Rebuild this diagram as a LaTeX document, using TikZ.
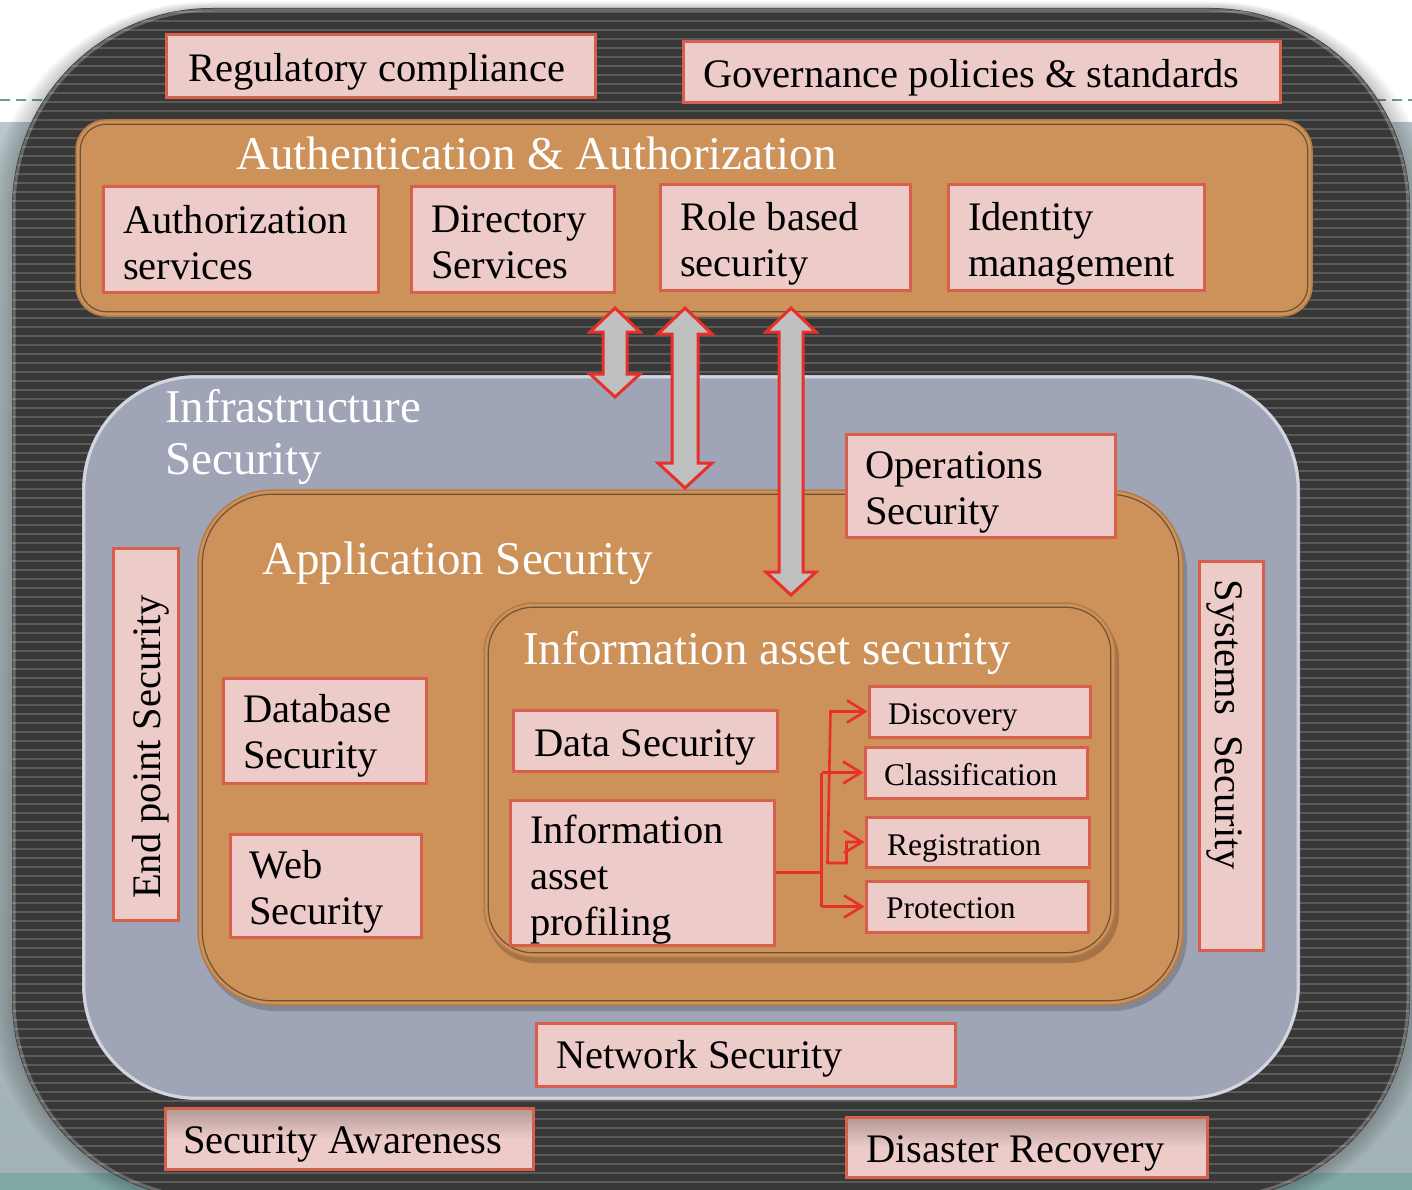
\documentclass[tikz,border=0pt]{standalone}
\usepackage{fontspec}
\setmainfont{Liberation Serif}
\usetikzlibrary{calc,arrows.meta,fit}

\definecolor{pinkfill}{HTML}{ECCBC8}
\definecolor{boxline}{HTML}{D6604B}
\definecolor{panelTan}{HTML}{CD915A}
\definecolor{tanEdge}{HTML}{B47B46}
\definecolor{tanLine}{HTML}{6E5234}
\definecolor{panelGrey}{HTML}{9FA5B7}
\definecolor{darkBase}{HTML}{383838}
\definecolor{stripeCol}{HTML}{5A5A5A}
\definecolor{slideTop}{HTML}{B9C6CA}
\definecolor{slideBot}{HTML}{A3B2B5}
\definecolor{slideTeal}{HTML}{7FA7A3}
\definecolor{dashCol}{HTML}{6E9898}
\definecolor{arrowRed}{HTML}{E8302A}
\definecolor{arrowGrey}{HTML}{C0C0C0}
\definecolor{awTop}{HTML}{B29792}

\tikzset{
  box/.style={draw=boxline, line width=3pt, fill=pinkfill, inner sep=0pt},
  shadedbox/.style={box, top color=awTop, bottom color=pinkfill, middle color=pinkfill},
  lbl/.style={font=\fontsize{40.5}{46}\selectfont, inner sep=0pt, text=black, align=left},
  sm/.style={font=\fontsize{31.5}{36}\selectfont, inner sep=0pt, text=black},
  ttl/.style={font=\fontsize{47}{52}\selectfont, inner sep=0pt, text=white, align=left},
  tanpanel/.style={fill=panelTan, draw=tanEdge, line width=1.5pt, inner sep=0pt},
  greypanel/.style={fill=panelGrey, inner sep=0pt},
  conn/.style={draw=arrowRed, line width=2.6pt},
  barb/.tip={Straight Barb[length=18pt,width=22pt,line width=2.6pt]},
  blockarrow/.style={fill=arrowGrey, draw=arrowRed, line width=3pt, line join=miter},
}

% vertical double block arrow: x, top tip, top head base, bottom head base, bottom tip, shaft half width, head half width
\newcommand{\secArrow}[7]{%
  \filldraw[blockarrow] (#1,#2) -- (#1+#7,#3) -- (#1+#6,#3) -- (#1+#6,#4) -- (#1+#7,#4)
    -- (#1,#5) -- (#1-#7,#4) -- (#1-#6,#4) -- (#1-#6,#3) -- (#1-#7,#3) -- cycle;}

\begin{document}
\begin{tikzpicture}[x=1pt,y=-1pt]
\useasboundingbox (0,0) rectangle (1412,1190);

% slide background
\fill[white] (0,0) rectangle (1412,1190);
\shade[top color=slideTop, bottom color=slideBot] (0,123) rectangle (1412,1173);
\fill[slideTeal] (0,1173) rectangle (1412,1190);
\draw[dashCol, line width=2.5pt, dash pattern=on 10pt off 6pt] (0,100) -- (1412,100);

% soft shadow round the dark frame
\foreach \i in {1,...,6}
  \fill[black, opacity=0.035, rounded corners=200+3*\i] (12-4*\i,8-1*\i) rectangle (1410+4*\i,1200+2*\i);

% dark striped frame
\fill[darkBase, rounded corners=200] (12,8) rectangle (1410,1200);
\begin{scope}
  \clip[rounded corners=200] (12,8) rectangle (1410,1200);
  \foreach \y in {12,21,...,1200}
    \draw[stripeCol, line width=2.2pt] (0,\y) -- (1412,\y);
\end{scope}
\draw[white, opacity=0.25, line width=3pt, rounded corners=199] (14,10) rectangle (1408,1198);

% outer boxes on the frame
\node[box, fit={(166,35) (595,98)}] (reg) {};
\node[lbl, anchor=base west] (reg-t) at (188,82) {Regulatory compliance};
\node[box, fit={(683,42) (1280,103)}] (gov) {};
\node[lbl, anchor=base west] (gov-t) at (703,88) {Governance policies \& standards};

% authentication panel
\node[tanpanel, rounded corners=30, fit={(76,120) (1312,316)}] (auth) {};
\draw[tanLine, line width=1.2pt, rounded corners=26]
  ($(auth.north west)+(5,5)$) rectangle ($(auth.south east)+(-5,-5)$);
\node[ttl, anchor=base west] (auth-t) at (236,170) {Authentication \& Authorization};

% (multi-line labels are anchored on the baseline of their last line)
\node[box, fit={(103,187) (378,292)}] (authz) {};
\node[lbl, anchor=base west] (authz-t) at (123,279) {Authorization\\services};
\node[box, fit={(411,187) (614,292)}] (dir) {};
\node[lbl, anchor=base west] (dir-t) at (431,278) {Directory\\Services};
\node[box, fit={(660,185) (910,290)}] (role) {};
\node[lbl, anchor=base west] (role-t) at (680,276) {Role based\\security};
\node[box, fit={(948,185) (1204,290)}] (idm) {};
\node[lbl, anchor=base west] (idm-t) at (968,276) {Identity\\management};

% infrastructure panel
\node[greypanel, rounded corners=115, fit={(82,375) (1300,1100)}] (infra) {};
\draw[white, opacity=0.55, line width=3pt, rounded corners=113]
  ($(infra.north west)+(2,2)$) rectangle ($(infra.south east)+(-2,-2)$);
\node[ttl, anchor=base west] (infra-t) at (165,474) {Infrastructure\\Security};

% application panel
\fill[black, opacity=0.18, rounded corners=75] (200,496) rectangle (1187,1011);
\node[tanpanel, rounded corners=75, fit={(198,490) (1183,1005)}] (app) {};
\draw[tanLine, line width=1.2pt, rounded corners=70]
  ($(app.north west)+(5,5)$) rectangle ($(app.south east)+(-5,-5)$);
\node[ttl, anchor=base west] (app-t) at (262,574) {Application Security};

% information asset panel
\fill[black, opacity=0.2, rounded corners=50] (486,609) rectangle (1119,963);
\node[tanpanel, rounded corners=50, fit={(484,603) (1115,957)}] (info) {};
\draw[tanLine, line width=1.2pt, rounded corners=45]
  ($(info.north west)+(5,5)$) rectangle ($(info.south east)+(-5,-5)$);
\node[ttl, anchor=base west] (info-t) at (523,664) {Information asset security};

% boxes on the infrastructure panel
\node[box, fit={(846,434) (1115,537)}] (ops) {};
\node[lbl, anchor=base west] (ops-t) at (865,524) {Operations\\Security};
\node[box, fit={(113,548) (178,920)}] (endp) {};
\node[lbl, rotate=90, anchor=base] (endp-t) at (160,747) {End point Security};
\node[box, fit={(1199,561) (1263,950)}] (sys) {};
\node[lbl, rotate=-90, anchor=base] (sys-t) at (1215,725) {Systems\hspace{0.5em}Security};
\node[box, fit={(536,1023) (955,1086)}] (net) {};
\node[lbl, anchor=base west] (net-t) at (556,1068) {Network Security};

% boxes on the application panel
\node[box, fit={(223,678) (426,783)}] (db) {};
\node[lbl, anchor=base west] (db-t) at (243,768) {Database\\Security};
\node[box, fit={(230,834) (421,937)}] (web) {};
\node[lbl, anchor=base west] (web-t) at (249,924) {Web\\Security};

% boxes on the information asset panel
\node[box, fit={(513,710) (777,771)}] (data) {};
\node[lbl, anchor=base west] (data-t) at (534,756) {Data Security};
\node[box, fit={(510,800) (774,945)}] (prof) {};
\node[lbl, anchor=base west] (prof-t) at (530,935) {Information\\asset\\profiling};

\node[box, fit={(869,686) (1090,737)}] (disc) {};
\node[sm, anchor=base west] (disc-t) at (888,724) {Discovery};
\node[box, fit={(865,747) (1087,798)}] (cls) {};
\node[sm, anchor=base west] (cls-t) at (884,785) {Classification};
\node[box, fit={(866,817) (1089,867)}] (regi) {};
\node[sm, anchor=base west] (regi-t) at (887,855) {Registration};
\node[box, fit={(866,881) (1088,932)}] (prot) {};
\node[sm, anchor=base west] (prot-t) at (886,918) {Protection};

% connectors from profiling to the asset steps
\coordinate (ja) at ($(prof.east)+(46,0)$);
\coordinate (jb) at ($(prof.east)+(55,0)$);
\draw[conn] (prof.east) -- (ja);
\draw[conn] (ja |- cls.west) -- (ja |- prot.west);
\draw[conn, -barb] (ja |- cls.west) -- (cls.west);
\draw[conn, -barb] (ja |- prot.west) -- (prot.west);
\draw[conn, barb-barb] (disc.west) -- (jb |- disc.west) -- ($(regi.west)+(-37,21)$) -- ++(19,0) |- (regi.west);

% bottom boxes on the frame
\node[box, shadedbox, fit={(165,1108) (533,1169)}] (aware) {};
\node[lbl, anchor=base west] (aware-t) at (183,1153) {Security Awareness};
\node[box, shadedbox, fit={(846,1117) (1207,1177)}] (dr) {};
\node[lbl, anchor=base west] (dr-t) at (866,1162) {Disaster Recovery};

% double block arrows between the layers
\secArrow{615}{308}{332}{374}{397}{12}{25}
\secArrow{685}{308}{334}{463}{488}{13}{27}
\secArrow{791}{308}{332}{572}{595}{12}{25}

\end{tikzpicture}
\end{document}
